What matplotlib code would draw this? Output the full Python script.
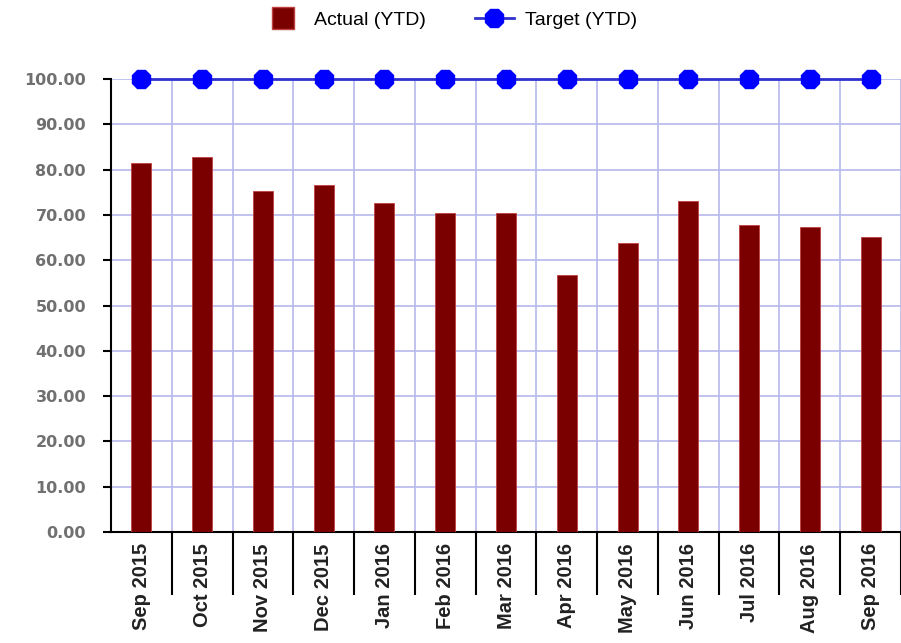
import numpy as np
import matplotlib
matplotlib.use("Agg")
import matplotlib.pyplot as plt
from matplotlib.lines import Line2D

months = ["Sep 2015", "Oct 2015", "Nov 2015", "Dec 2015", "Jan 2016", "Feb 2016",
          "Mar 2016", "Apr 2016", "May 2016", "Jun 2016", "Jul 2016", "Aug 2016", "Sep 2016"]
actual = [81.5, 82.8, 75.3, 76.6, 72.6, 70.4, 70.4, 56.7, 63.8, 73.1, 67.8, 67.3, 65.1]
target = [100, 100, 100, 100, 100, 100, 100, 100, 100, 100, 100, 100, 100]
yticks = [0, 10, 20, 30, 40, 50, 60, 70, 80, 90, 100]

fig = plt.figure(figsize=(9.01, 6.43), dpi=100)
ax = fig.add_axes([0.1232, 0.1726, 0.8768, 0.7045])

x = np.arange(len(months))
ax.bar(x, actual, width=0.33, color="#7a0000", edgecolor="#c04040", linewidth=0.6,
       zorder=3)
ax.plot(x, target, color="#3030d0", linewidth=2, marker="8", markersize=14,
        markerfacecolor="#0000ff", markeredgecolor="#0000ff", zorder=4, clip_on=False)

ax.set_xlim(-0.5, len(months) - 0.5)
ax.set_ylim(0, 100)

ax.set_yticks(yticks)
ax.set_yticklabels(["%.2f" % v for v in yticks], fontsize=11.5, fontweight="bold",
                   color="#707070", family="DejaVu Sans")
ax.set_xticks(x)
ax.set_xticklabels(months, rotation=90, fontsize=14.5, fontweight="bold",
                   color="#222222", family="Liberation Sans", va="top")
ax.set_xticks(np.arange(len(months)) + 0.5, minor=True)
ax.tick_params(axis="x", which="major", length=0, pad=8)
ax.tick_params(axis="x", which="minor", length=45, width=1.5, color="black")
ax.tick_params(axis="y", length=6, width=1.5, color="black", pad=12)
ax.grid(axis="y", which="major", color="#b8b8ee", linewidth=1.2, zorder=0)
ax.grid(axis="x", which="minor", color="#b8b8ee", linewidth=1.2, zorder=0)
ax.set_axisbelow(True)

for s in ["top", "right"]:
    ax.spines[s].set_visible(False)
ax.spines["left"].set_linewidth(1.5)
ax.spines["bottom"].set_linewidth(1.5)

handles = [
    Line2D([], [], linestyle="none", marker="s", markersize=16,
           markerfacecolor="#7a0000", markeredgecolor="#c04040"),
    Line2D([], [], color="#3030d0", linewidth=2, marker="8", markersize=14,
           markerfacecolor="#0000ff", markeredgecolor="#0000ff"),
]
fig.legend(handles, ["Actual (YTD)", "Target (YTD)"], loc="upper center",
           bbox_to_anchor=(0.5, 1.0), ncol=2, frameon=False,
           prop={"family": "Liberation Sans", "size": 14}, handlelength=2.0,
           handletextpad=0.6, columnspacing=2.5, borderaxespad=0.2)

fig.savefig("out.png", dpi=100)
